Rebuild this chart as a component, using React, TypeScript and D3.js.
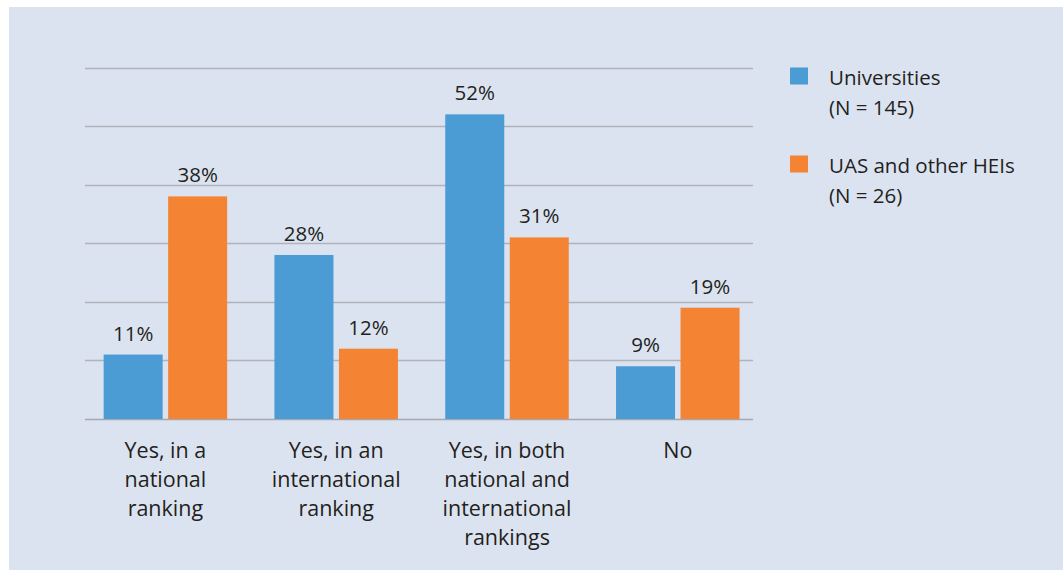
import React from "react";
import * as d3 from "d3";

const categories = [
  ["Yes, in a", "national", "ranking"],
  ["Yes, in an", "international", "ranking"],
  ["Yes, in both", "national and", "international", "rankings"],
  ["No"],
];
const seriesNames = ["Universities", "UAS and other HEIs"];
const seriesNotes = ["(N = 145)", "(N = 26)"];
const universities = [11, 28, 52, 9];
const uasOther = [38, 12, 31, 19];
const yTicks = [0, 10, 20, 30, 40, 50, 60];

const colors = ["#4b9bd5", "#f58334"];
const FONT = "'Open Sans', sans-serif";
const TEXT = "#231f20";

export default function App() {
  const W = 1063;
  const H = 570;
  const idx = categories.map((_, i) => String(i));
  const x = d3.scaleBand<string>().domain(idx).range([80, 763.2]).paddingInner(0).paddingOuter(0);
  const inner = d3
    .scaleBand<string>()
    .domain(["0", "1"])
    .range([0, 123.5])
    .paddingInner(0.085)
    .paddingOuter(0);
  const y = d3.scaleLinear().domain([0, 60]).range([419, 67.5]);
  const series = [universities, uasOther];
  const gridX0 = 85;
  const gridX1 = 753;

  return (
    <svg
      width={W}
      height={H}
      style={{ position: "absolute", left: 0, top: 0 }}
      fontFamily={FONT}
    >
      <rect x={9} y={7} width={W - 9} height={H - 7} fill="#dce3f0" />
      {yTicks.map((t) => (
        <line
          key={t}
          x1={gridX0}
          x2={gridX1}
          y1={Math.round(y(t)) + 0.5}
          y2={Math.round(y(t)) + 0.5}
          stroke={t === 0 ? "#a4a7ad" : "#b0b3b9"}
          strokeWidth={t === 0 ? 1.6 : 1.3}
        />
      ))}
      {idx.map((c, i) => {
        const cx = (x(c) as number) + x.bandwidth() / 2;
        const start = cx - 123.5 / 2;
        return (
          <g key={c}>
            {series.map((s, j) => {
              const bx = start + (inner(String(j)) as number);
              const bw = inner.bandwidth();
              const top = y(s[i]);
              return (
                <g key={j}>
                  <rect x={bx} y={top} width={bw} height={y(0) - top} fill={colors[j]} />
                  <text
                    x={bx + bw / 2}
                    y={top - 14}
                    textAnchor="middle"
                    fontSize={20.5}
                    fill={TEXT}
                  >
                    {s[i]}%
                  </text>
                </g>
              );
            })}
            <text textAnchor="middle" fontSize={21.5} fill={TEXT}>
              {categories[i].map((line, k) => (
                <tspan key={k} x={cx} y={458 + k * 29}>
                  {line}
                </tspan>
              ))}
            </text>
          </g>
        );
      })}
      {seriesNames.map((name, j) => (
        <g key={name} transform={`translate(790, ${67.5 + j * 88})`}>
          <rect x={0} y={0} width={18} height={17} fill={colors[j]} />
          <text x={39} y={17.5} fontSize={20.5} fill={TEXT}>
            {name}
          </text>
          <text x={39} y={47.5} fontSize={20.5} fill={TEXT}>
            {seriesNotes[j]}
          </text>
        </g>
      ))}
    </svg>
  );
}
